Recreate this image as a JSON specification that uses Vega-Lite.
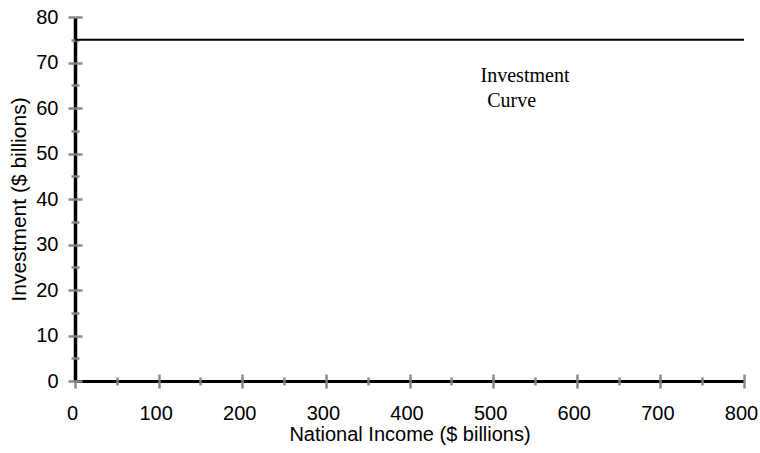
{
  "$schema": "https://vega.github.io/schema/vega-lite/v6.json",
  "width": 669,
  "height": 364,
  "autosize": {"type": "none"},
  "padding": {"left": 75, "top": 17, "right": 16, "bottom": 72},
  "background": "white",
  "config": {
    "view": {"stroke": null},
    "axis": {"labelFont": "Liberation Sans", "titleFont": "Liberation Sans", "labelColor": "black", "titleColor": "black", "titleFontWeight": "normal", "labelFontSize": 20, "titleFontSize": 20, "grid": false, "labelFlush": false, "labelOverlap": false}
  },
  "data": {"values": [{"income": 0, "investment": 75}, {"income": 800, "investment": 75}]},
  "resolve": {"axis": {"x": "independent", "y": "independent"}},
  "layer": [
    {
      "mark": {"type": "line", "strokeOpacity": 0},
      "encoding": {
        "x": {"field": "income", "type": "quantitative", "scale": {"domain": [0, 800], "nice": false}, "axis": {"orient": "bottom", "title": null, "labels": false, "ticks": false, "domain": true, "domainColor": "black", "domainWidth": 3}},
        "y": {"field": "investment", "type": "quantitative", "scale": {"domain": [0, 80], "nice": false}, "axis": {"orient": "left", "title": null, "labels": false, "ticks": false, "domain": true, "domainColor": "black", "domainWidth": 3.5}}
      }
    },
    {
      "mark": {"type": "line", "strokeOpacity": 0},
      "encoding": {
        "x": {"field": "income", "type": "quantitative", "axis": {"orient": "bottom", "values": [0, 100, 200, 300, 400, 500, 600, 700, 800], "title": "National Income ($ billions)", "titlePadding": 1, "labelPadding": 15, "labelOffset": -3, "tickSize": 7, "tickColor": "#888888", "tickWidth": 2.5, "domain": false}},
        "y": {"field": "investment", "type": "quantitative", "axis": {"orient": "left", "values": [0, 10, 20, 30, 40, 50, 60, 70, 80], "title": "Investment ($ billions)", "titleFontSize": 21, "titlePadding": 6, "labelPadding": 10, "tickSize": 7, "tickColor": "#888888", "tickWidth": 2.5, "domain": false}}
      }
    },
    {
      "mark": {"type": "line", "strokeOpacity": 0},
      "encoding": {
        "x": {"field": "income", "type": "quantitative", "axis": {"orient": "bottom", "values": [0, 100, 200, 300, 400, 500, 600, 700, 800], "title": null, "labels": false, "tickSize": -7, "tickColor": "#888888", "tickWidth": 2.5, "domain": false}},
        "y": {"field": "investment", "type": "quantitative", "axis": {"orient": "left", "values": [0, 10, 20, 30, 40, 50, 60, 70, 80], "title": null, "labels": false, "tickSize": -7, "tickColor": "#888888", "tickWidth": 2.5, "domain": false}}
      }
    },
    {
      "mark": {"type": "line", "strokeOpacity": 0},
      "encoding": {
        "x": {"field": "income", "type": "quantitative", "axis": {"orient": "bottom", "values": [50, 150, 250, 350, 450, 550, 650, 750], "title": null, "labels": false, "tickSize": 4, "tickColor": "#888888", "tickWidth": 2.5, "domain": false}},
        "y": {"field": "investment", "type": "quantitative", "axis": {"orient": "left", "values": [5, 15, 25, 35, 45, 55, 65, 75], "title": null, "labels": false, "tickSize": 4, "tickColor": "#888888", "tickWidth": 2.5, "domain": false}}
      }
    },
    {
      "mark": {"type": "line", "strokeOpacity": 0},
      "encoding": {
        "x": {"field": "income", "type": "quantitative", "axis": {"orient": "bottom", "values": [50, 150, 250, 350, 450, 550, 650, 750], "title": null, "labels": false, "tickSize": -4, "tickColor": "#888888", "tickWidth": 2.5, "domain": false}},
        "y": {"field": "investment", "type": "quantitative", "axis": {"orient": "left", "values": [5, 15, 25, 35, 45, 55, 65, 75], "title": null, "labels": false, "tickSize": -4, "tickColor": "#888888", "tickWidth": 2.5, "domain": false}}
      }
    },
    {
      "mark": {"type": "line", "color": "black", "strokeWidth": 2},
      "encoding": {
        "x": {"field": "income", "type": "quantitative", "axis": null},
        "y": {"field": "investment", "type": "quantitative", "axis": null}
      }
    },
    {
      "data": {"values": [{"income": 485, "investment": 65.7, "label": "Investment"}, {"income": 493, "investment": 60.2, "label": "Curve"}]},
      "mark": {"type": "text", "font": "Liberation Serif", "fontSize": 20, "align": "left", "baseline": "alphabetic", "color": "black"},
      "encoding": {
        "x": {"field": "income", "type": "quantitative", "axis": null},
        "y": {"field": "investment", "type": "quantitative", "axis": null},
        "text": {"field": "label"}
      }
    }
  ]
}
